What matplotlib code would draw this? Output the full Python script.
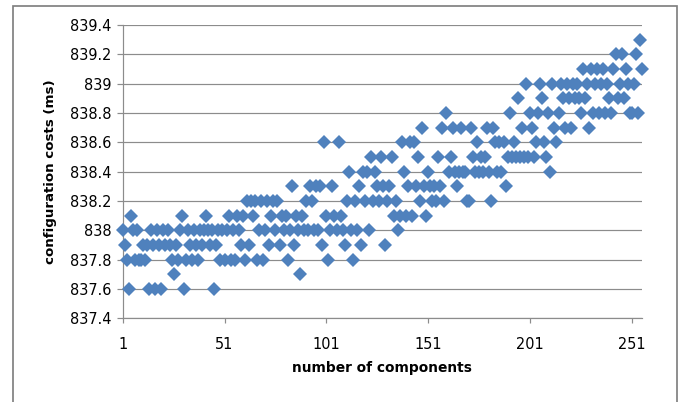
import numpy as np
import matplotlib
matplotlib.use("Agg")
from matplotlib import pyplot as plt
from matplotlib.patches import Rectangle

# configuration cost (ms) per number of components
costs_001_050 = [838.0, 837.9, 837.8, 837.6, 838.1, 838.0, 837.8, 838.0, 837.8, 837.8,
                 837.9, 837.8, 837.9, 837.6, 838.0, 837.9, 837.6, 838.0, 837.9, 837.6,
                 838.0, 837.9, 838.0, 837.9, 837.8, 837.7, 837.9, 837.8, 838.0, 838.1,
                 837.6, 837.8, 838.0, 837.9, 837.8, 838.0, 837.9, 837.8, 838.0, 837.9,
                 838.0, 838.1, 838.0, 837.9, 838.0, 837.6, 837.9, 838.0, 837.8, 838.0]
costs_051_100 = [837.8, 838.0, 838.1, 837.8, 838.0, 837.8, 838.1, 838.0, 837.9, 838.1,
                 837.8, 838.2, 837.9, 838.2, 838.1, 838.2, 837.8, 838.0, 838.2, 837.8,
                 838.0, 838.2, 837.9, 838.1, 838.2, 838.0, 838.2, 837.9, 838.1, 838.0,
                 838.1, 837.8, 838.0, 838.3, 837.9, 838.1, 838.0, 837.7, 838.1, 838.0,
                 838.2, 838.0, 838.3, 838.2, 838.0, 838.3, 838.0, 838.3, 837.9, 838.6]
costs_101_150 = [838.1, 837.8, 838.0, 838.3, 838.1, 838.0, 838.6, 838.1, 838.0, 837.9,
                 838.2, 838.4, 838.0, 837.8, 838.2, 838.0, 838.3, 837.9, 838.4, 838.2,
                 838.4, 838.0, 838.5, 838.2, 838.4, 838.3, 838.2, 838.5, 838.3, 837.9,
                 838.2, 838.3, 838.5, 838.1, 838.2, 838.0, 838.1, 838.6, 838.4, 838.1,
                 838.3, 838.6, 838.1, 838.6, 838.3, 838.5, 838.2, 838.7, 838.3, 838.1]
costs_151_200 = [838.4, 838.3, 838.2, 838.3, 838.2, 838.5, 838.3, 838.7, 838.2, 838.8,
                 838.4, 838.5, 838.7, 838.4, 838.3, 838.4, 838.7, 838.4, 838.4, 838.2,
                 838.2, 838.7, 838.5, 838.4, 838.6, 838.4, 838.5, 838.4, 838.5, 838.7,
                 838.4, 838.2, 838.7, 838.6, 838.4, 838.6, 838.4, 838.6, 838.3, 838.5,
                 838.8, 838.5, 838.6, 838.5, 838.9, 838.5, 838.7, 838.5, 839.0, 838.5]
costs_201_256 = [838.8, 838.7, 838.5, 838.6, 838.8, 839.0, 838.9, 838.6, 838.5, 838.8,
                 838.4, 839.0, 838.7, 838.6, 838.8, 839.0, 838.9, 838.7, 839.0, 838.9,
                 838.7, 839.0, 838.9, 839.0, 838.9, 838.8, 839.1, 838.9, 839.0, 838.7,
                 839.1, 838.8, 839.0, 839.1, 838.8, 839.0, 839.1, 838.8, 839.0, 838.9,
                 838.8, 839.1, 839.2, 838.9, 839.0, 839.2, 838.9, 839.1, 839.0, 838.8,
                 838.8, 839.0, 839.2, 838.8, 839.3, 839.1]

costs = costs_001_050 + costs_051_100 + costs_101_150 + costs_151_200 + costs_201_256
components = np.arange(1, len(costs) + 1)

x_ticks = [1, 51, 101, 151, 201, 251]
y_ticks = [837.4, 837.6, 837.8, 838.0, 838.2, 838.4, 838.6, 838.8, 839.0, 839.2, 839.4]
y_labels = ["837.4", "837.6", "837.8", "838", "838.2", "838.4",
            "838.6", "838.8", "839", "839.2", "839.4"]

grey = "#8c8c8c"

fig = plt.figure(figsize=(683 / 72, 402 / 72), dpi=72)
ax = fig.add_axes([122.7 / 683, 1 - 318.3 / 402, (642 - 122.7) / 683, (318.3 - 25) / 402])

ax.plot(components, costs, linestyle="none", marker="D", markersize=9.8,
        color="#4F81BD", markeredgewidth=0, clip_on=False, zorder=3)

ax.set_xlim(1, len(costs))
ax.set_ylim(837.4, 839.4)
ax.set_xticks(x_ticks)
ax.set_yticks(y_ticks)
ax.set_yticklabels(y_labels)

ax.grid(axis="y", color=grey, linewidth=1.2)
ax.set_axisbelow(True)
for s in ["top", "right"]:
    ax.spines[s].set_visible(False)
for s in ["left", "bottom"]:
    ax.spines[s].set_color(grey)
    ax.spines[s].set_linewidth(1.2)

ax.tick_params(axis="y", length=6, width=1.2, color=grey, pad=5, labelsize=14.5, labelcolor="black")
ax.tick_params(axis="x", length=5, width=1.2, color=grey, pad=14, labelsize=14.5, labelcolor="black")

ax.set_xlabel("number of components", fontsize=13.8, fontweight="bold", labelpad=9)
ax.set_ylabel("configuration costs (ms)", fontsize=13.4, fontweight="bold", labelpad=13)

# chart area border
fig.patches.append(Rectangle((13 / 683, -0.05), (676.7 - 13) / 683, 1.05 - 5.7 / 402,
                             transform=fig.transFigure, fill=False,
                             edgecolor="#7f7f7f", linewidth=1.7))

fig.savefig("out.png", dpi=72)
